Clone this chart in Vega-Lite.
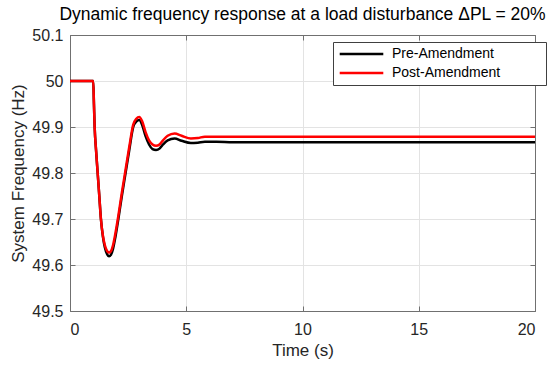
{
  "$schema": "https://vega.github.io/schema/vega-lite/v6.json",
  "width": 465,
  "height": 276,
  "autosize": {"type": "none"},
  "padding": {"left": 70, "top": 35, "right": 15, "bottom": 55},
  "title": {
    "text": "Dynamic frequency response at a load disturbance ΔPL = 20%",
    "fontSize": 17.5,
    "fontWeight": "normal",
    "color": "#000000",
    "anchor": "middle",
    "offset": 4
  },
  "config": {
    "font": "Liberation Sans",
    "view": {"stroke": "#707070", "strokeWidth": 1}
  },
  "data": {
    "values": [
      {"t": 0, "f": 50, "s": "Pre-Amendment"},
      {"t": 1.0, "f": 50, "s": "Pre-Amendment"},
      {"t": 1.03, "f": 49.95, "s": "Pre-Amendment"},
      {"t": 1.06, "f": 49.9, "s": "Pre-Amendment"},
      {"t": 1.12, "f": 49.85, "s": "Pre-Amendment"},
      {"t": 1.19, "f": 49.8, "s": "Pre-Amendment"},
      {"t": 1.26, "f": 49.75, "s": "Pre-Amendment"},
      {"t": 1.33, "f": 49.7, "s": "Pre-Amendment"},
      {"t": 1.42, "f": 49.66, "s": "Pre-Amendment"},
      {"t": 1.5, "f": 49.638, "s": "Pre-Amendment"},
      {"t": 1.6, "f": 49.623, "s": "Pre-Amendment"},
      {"t": 1.68, "f": 49.619, "s": "Pre-Amendment"},
      {"t": 1.76, "f": 49.622, "s": "Pre-Amendment"},
      {"t": 1.85, "f": 49.635, "s": "Pre-Amendment"},
      {"t": 1.95, "f": 49.66, "s": "Pre-Amendment"},
      {"t": 2.08, "f": 49.7, "s": "Pre-Amendment"},
      {"t": 2.23, "f": 49.75, "s": "Pre-Amendment"},
      {"t": 2.39, "f": 49.8, "s": "Pre-Amendment"},
      {"t": 2.55, "f": 49.85, "s": "Pre-Amendment"},
      {"t": 2.72, "f": 49.9, "s": "Pre-Amendment"},
      {"t": 2.85, "f": 49.912, "s": "Pre-Amendment"},
      {"t": 2.98, "f": 49.915, "s": "Pre-Amendment"},
      {"t": 3.1, "f": 49.905, "s": "Pre-Amendment"},
      {"t": 3.25, "f": 49.88, "s": "Pre-Amendment"},
      {"t": 3.4, "f": 49.862, "s": "Pre-Amendment"},
      {"t": 3.55, "f": 49.852, "s": "Pre-Amendment"},
      {"t": 3.7, "f": 49.85, "s": "Pre-Amendment"},
      {"t": 3.85, "f": 49.853, "s": "Pre-Amendment"},
      {"t": 4.0, "f": 49.862, "s": "Pre-Amendment"},
      {"t": 4.2, "f": 49.871, "s": "Pre-Amendment"},
      {"t": 4.5, "f": 49.875, "s": "Pre-Amendment"},
      {"t": 4.8, "f": 49.87, "s": "Pre-Amendment"},
      {"t": 5.2, "f": 49.865, "s": "Pre-Amendment"},
      {"t": 5.5, "f": 49.866, "s": "Pre-Amendment"},
      {"t": 5.8, "f": 49.868, "s": "Pre-Amendment"},
      {"t": 6.3, "f": 49.868, "s": "Pre-Amendment"},
      {"t": 7, "f": 49.867, "s": "Pre-Amendment"},
      {"t": 20, "f": 49.867, "s": "Pre-Amendment"},
      {"t": 0, "f": 50, "s": "Post-Amendment"},
      {"t": 1.0, "f": 50, "s": "Post-Amendment"},
      {"t": 1.03, "f": 49.95, "s": "Post-Amendment"},
      {"t": 1.06, "f": 49.9, "s": "Post-Amendment"},
      {"t": 1.12, "f": 49.85, "s": "Post-Amendment"},
      {"t": 1.19, "f": 49.8, "s": "Post-Amendment"},
      {"t": 1.26, "f": 49.75, "s": "Post-Amendment"},
      {"t": 1.33, "f": 49.7, "s": "Post-Amendment"},
      {"t": 1.42, "f": 49.662, "s": "Post-Amendment"},
      {"t": 1.5, "f": 49.643, "s": "Post-Amendment"},
      {"t": 1.6, "f": 49.63, "s": "Post-Amendment"},
      {"t": 1.68, "f": 49.627, "s": "Post-Amendment"},
      {"t": 1.76, "f": 49.63, "s": "Post-Amendment"},
      {"t": 1.85, "f": 49.643, "s": "Post-Amendment"},
      {"t": 1.95, "f": 49.668, "s": "Post-Amendment"},
      {"t": 2.08, "f": 49.707, "s": "Post-Amendment"},
      {"t": 2.23, "f": 49.757, "s": "Post-Amendment"},
      {"t": 2.39, "f": 49.807, "s": "Post-Amendment"},
      {"t": 2.55, "f": 49.857, "s": "Post-Amendment"},
      {"t": 2.72, "f": 49.905, "s": "Post-Amendment"},
      {"t": 2.85, "f": 49.918, "s": "Post-Amendment"},
      {"t": 2.98, "f": 49.922, "s": "Post-Amendment"},
      {"t": 3.1, "f": 49.913, "s": "Post-Amendment"},
      {"t": 3.25, "f": 49.889, "s": "Post-Amendment"},
      {"t": 3.4, "f": 49.871, "s": "Post-Amendment"},
      {"t": 3.55, "f": 49.862, "s": "Post-Amendment"},
      {"t": 3.7, "f": 49.859, "s": "Post-Amendment"},
      {"t": 3.85, "f": 49.862, "s": "Post-Amendment"},
      {"t": 4.0, "f": 49.871, "s": "Post-Amendment"},
      {"t": 4.2, "f": 49.881, "s": "Post-Amendment"},
      {"t": 4.5, "f": 49.886, "s": "Post-Amendment"},
      {"t": 4.8, "f": 49.881, "s": "Post-Amendment"},
      {"t": 5.2, "f": 49.875, "s": "Post-Amendment"},
      {"t": 5.5, "f": 49.876, "s": "Post-Amendment"},
      {"t": 5.8, "f": 49.879, "s": "Post-Amendment"},
      {"t": 6.3, "f": 49.879, "s": "Post-Amendment"},
      {"t": 7, "f": 49.879, "s": "Post-Amendment"},
      {"t": 20, "f": 49.879, "s": "Post-Amendment"}
    ]
  },
  "layer": [
    {
      "mark": {"type": "line", "strokeWidth": 2.5, "interpolate": "monotone", "clip": true},
      "encoding": {
        "x": {
          "field": "t", "type": "quantitative",
          "scale": {"domain": [0, 20], "nice": false},
          "axis": {
            "title": "Time (s)", "values": [0, 5, 10, 15, 20],
            "titleFontSize": 17, "titleFontWeight": "normal", "titleColor": "#262626", "titlePadding": 5,
            "labelFontSize": 16, "labelColor": "#262626", "labelPadding": 15,
            "tickSize": -5, "tickColor": "#707070", "domainColor": "#707070",
            "gridColor": "#e3e3e3", "gridOpacity": 1
          }
        },
        "y": {
          "field": "f", "type": "quantitative",
          "scale": {"domain": [49.5, 50.1], "nice": false, "zero": false},
          "axis": {
            "title": "System Frequency (Hz)", "values": [49.5, 49.6, 49.7, 49.8, 49.9, 50, 50.1],
            "format": ".1~f",
            "titleFontSize": 17, "titleFontWeight": "normal", "titleColor": "#262626", "titlePadding": 4,
            "labelFontSize": 16, "labelColor": "#262626", "labelPadding": 12,
            "tickSize": -5, "tickColor": "#707070", "domainColor": "#707070",
            "gridColor": "#e3e3e3", "gridOpacity": 1
          }
        },
        "color": {
          "field": "s", "type": "nominal",
          "scale": {"domain": ["Pre-Amendment", "Post-Amendment"], "range": ["#000000", "#ff0000"]},
          "legend": {
            "title": null, "orient": "none", "legendX": 263, "legendY": 7,
            "symbolType": "stroke", "symbolSize": 1900, "symbolStrokeWidth": 2.5,
            "clipHeight": 14,
            "labelFontSize": 14, "labelColor": "#000000", "labelOffset": 7, "labelLimit": 300,
            "labelExpr": "datum.label + '\u2800\u2800\u2800\u2800'",
            "rowPadding": 5, "padding": 5,
            "strokeColor": "#404040", "fillColor": "#ffffff"
          }
        }
      }
    },
    {
      "mark": {"type": "line", "opacity": 0},
      "encoding": {
        "x": {
          "field": "t", "type": "quantitative",
          "axis": {"orient": "top", "values": [0, 5, 10, 15, 20], "labels": false, "title": null, "grid": false,
                   "tickSize": -5, "tickColor": "#707070", "domainColor": "#707070"}
        },
        "y": {
          "field": "f", "type": "quantitative",
          "axis": {"orient": "right", "values": [49.5, 49.6, 49.7, 49.8, 49.9, 50, 50.1], "labels": false, "title": null, "grid": false,
                   "tickSize": -5, "tickColor": "#707070", "domainColor": "#707070"}
        },
        "detail": {"field": "s"}
      }
    }
  ],
  "resolve": {"axis": {"x": "independent", "y": "independent"}}
}
